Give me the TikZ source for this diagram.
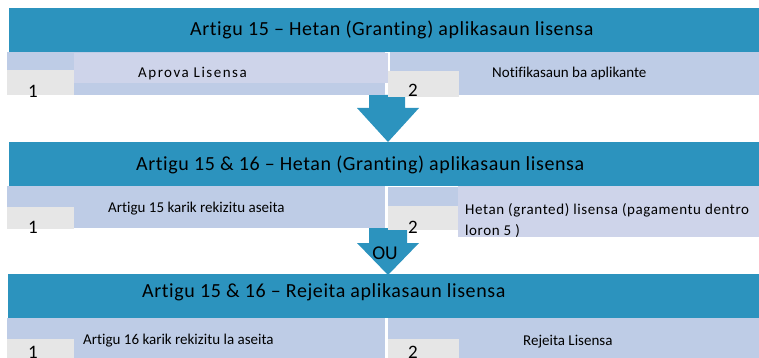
\documentclass[tikz,border=0pt]{standalone}
\usepackage{fontspec}
\setmainfont{Carlito}[Ligatures=NoCommon]
\usetikzlibrary{positioning}
\definecolor{barblue}{RGB}{44,147,190}
\definecolor{bandblue}{RGB}{190,204,230}
\definecolor{lavender}{RGB}{206,212,234}
\definecolor{numgray}{RGB}{230,230,230}

\begin{document}
\begin{tikzpicture}[x=1pt, y=-1pt]
\tikzstyle{bar} = [rectangle, anchor=north west, inner sep=0pt, fill=barblue]
\tikzstyle{panel} = [rectangle, anchor=north west, inner sep=0pt, fill=bandblue]
\tikzstyle{soft} = [rectangle, anchor=north west, inner sep=0pt, fill=lavender]
\tikzstyle{numbox} = [rectangle, anchor=north west, inner sep=0pt, fill=numgray]
\tikzstyle{title} = [anchor=base west, inner sep=0pt, font=\fontsize{20}{23}\selectfont\addfontfeature{LetterSpace=3}]
\tikzstyle{item} = [anchor=base west, inner sep=0pt, font=\fontsize{15}{18}\selectfont]
\tikzstyle{num} = [anchor=base, inner sep=0pt, font=\fontsize{19}{22}\selectfont]

\useasboundingbox (0,0) rectangle (759,358);

% Arrows
\fill[barblue] (369,95) -- (405,95) -- (405,108) -- (419,108) -- (388,142)
  -- (357,108) -- (369,108) -- cycle;
\fill[barblue] (369,228) -- (407,228) -- (407,243) -- (419,243) -- (388,275)
  -- (357,243) -- (369,243) -- cycle;
\node (ou) [num, font=\fontsize{19.5}{22}\selectfont] at (385,259) {OU};

% Headers
\node (bar1) [bar, minimum width=750pt, minimum height=44pt] at (9,8) {};
\node (bar2) [bar, minimum width=750pt, minimum height=44pt] at (9,142) {};
\node (bar3) [bar, minimum width=751pt, minimum height=44pt] at (8,274) {};

% Row 1
\node (left1) [panel, minimum width=378pt, minimum height=43pt] at (7,52) {};
\node (soft1) [soft, minimum width=314pt, minimum height=30pt] at (74,53) {};
\node (num1a) [numbox, minimum width=67pt, minimum height=25pt] at (7,70) {};
\node (right1) [panel, minimum width=369pt, minimum height=43pt] at (390,52) {};
\node (num1b) [numbox, minimum width=71pt, minimum height=26pt] at (388,71) {};

% Row 2
\node (left2) [panel, minimum width=378pt, minimum height=42pt] at (7,186) {};
\node (num2a) [numbox, minimum width=67pt, minimum height=22pt] at (7,207) {};
\node (right2) [panel, minimum width=71pt, minimum height=19pt] at (388,187) {};
\node (num2b) [numbox, minimum width=71pt, minimum height=24pt] at (388,206) {};
\node (soft2) [soft, minimum width=301pt, minimum height=51pt] at (458,186) {};

% Row 3
\node (left3) [panel, minimum width=378pt, minimum height=40pt] at (7,318) {};
\node (num3a) [numbox, minimum width=67pt, minimum height=20pt] at (7,339) {};
\node (right3) [panel, minimum width=371pt, minimum height=40pt] at (388,318) {};
\node (num3b) [numbox, minimum width=71pt, minimum height=20pt] at (388,339) {};

% Texts
\node (t1) [title] at (190,36) {Artigu 15 – Hetan (Granting) aplikasaun lisensa};
\node (t2) [title] at (136,170) {Artigu 15 \& 16 – Hetan (Granting) aplikasaun lisensa};
\node (t3) [title] at (142,297) {Artigu 15 \& 16 – Rejeita aplikasaun lisensa};

\node (i1a) [item] at (138,78) {\addfontfeature{LetterSpace=10}Aprova Lisensa};
\node (i1b) [item] at (492,78) {Notifikasaun ba aplikante};
\node (i2a) [item] at (108,212) {Artigu 15 karik rekizitu aseita};
\node (i2b) [item] at (465,214) {\addfontfeature{LetterSpace=4}Hetan (granted) lisensa (pagamentu dentro};
\node (i2c) [item] at (465,235) {\addfontfeature{LetterSpace=4}loron 5 )};
\node (i3a) [item] at (83,344) {Artigu 16 karik rekizitu la aseita};
\node (i3b) [item] at (523,345) {Rejeita Lisensa};

\node (n1a) [num] at (33,98) {1};
\node (n1b) [num] at (413,97) {2};
\node (n2a) [num] at (33,233) {1};
\node (n2b) [num] at (413,233) {2};
\node (n3a) [num] at (33,358) {1};
\node (n3b) [num] at (413,358) {2};
\end{tikzpicture}
\end{document}
